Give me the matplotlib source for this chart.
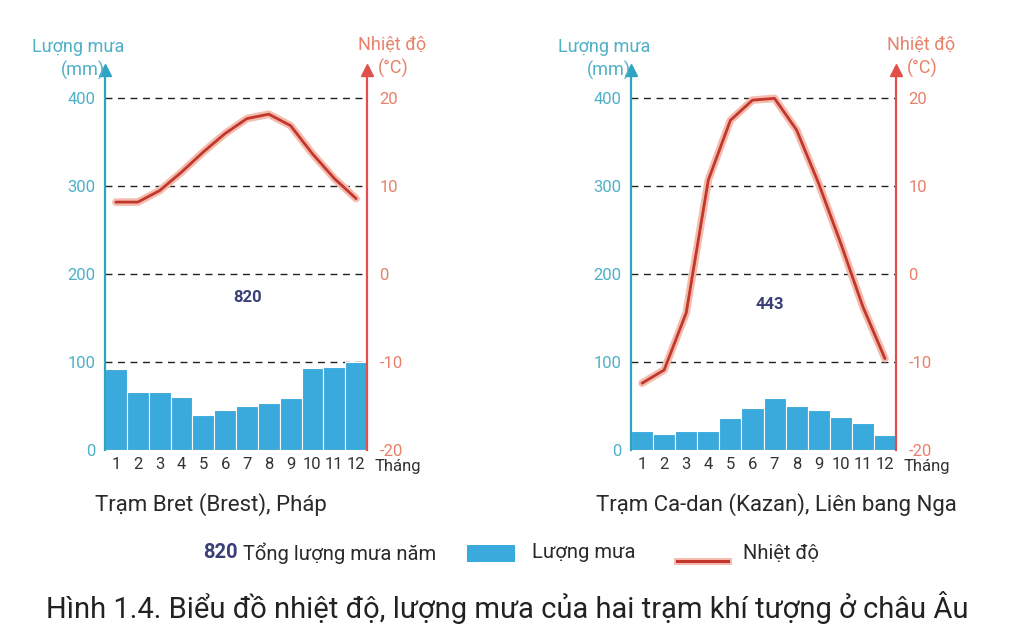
import matplotlib
matplotlib.use('Agg')
import matplotlib.pyplot as plt
import matplotlib.patheffects as pe
from matplotlib.patches import Rectangle
from matplotlib.lines import Line2D

# dữ liệu
months = list(range(1, 13))
month_labels = [str(m) for m in months]

brest_rain = [92, 66, 66, 60, 40, 46, 50, 54, 59, 93, 94, 100]
brest_temp = [8.2, 8.2, 9.5, 11.6, 13.9, 16.0, 17.7, 18.2, 16.9, 13.7, 10.9, 8.6]
brest_total = 820

kazan_rain = [22, 18, 22, 22, 36, 48, 59, 50, 46, 38, 31, 17]
kazan_temp = [-12.4, -10.9, -4.4, 10.7, 17.5, 19.8, 20.0, 16.4, 10.3, 3.5, -3.7, -9.6]
kazan_total = 443

rain_ticks = [0, 100, 200, 300, 400]
temp_ticks = [-20, -10, 0, 10, 20]

W, H = 1018, 641

plt.rcParams['font.family'] = ['Roboto', 'DejaVu Sans']

TEAL = '#2fa3c4'
TEAL_TXT = '#4fb0c8'
RED = '#e0504a'
RED_TXT = '#e8806a'
BAR = '#3aa9dc'
LINE = '#c3362b'
NAVY = '#3a3f78'
TXT = '#2a2a2a'


def fx(x):
    return x / W


def fy(y):
    return 1 - y / H


fig = plt.figure(figsize=(W / 100, H / 100), dpi=100)


def draw_station(x0, x1, rain, temp, total, total_pos, name, name_x):
    ax = fig.add_axes([fx(x0), fy(450), (x1 - x0) / W, (450 - 72) / H])
    ax.set_xlim(0.5, 12.5)
    ax.set_ylim(0, 430)
    ax.bar(months, rain, width=1.0, color=BAR, edgecolor='white', linewidth=0.8, zorder=2)
    ax.hlines(rain_ticks[1:], 0.5, 12.5, colors='#222222', linestyles=(0, (5, 4)), lw=1.0, zorder=1)

    for s in ['top', 'right', 'bottom']:
        ax.spines[s].set_visible(False)
    ax.spines['left'].set_color(TEAL)
    ax.spines['left'].set_linewidth(1.6)
    ax.set_yticks(rain_ticks)
    ax.set_yticklabels([str(v) for v in rain_ticks], color=TEAL_TXT, fontsize=12)
    ax.set_xticks(months)
    ax.set_xticklabels(month_labels, color='#333333', fontsize=12)
    ax.tick_params(length=0, pad=5)
    ax.tick_params(axis='y', pad=7)

    ax2 = ax.twinx()
    ax2.set_ylim(-20, 23)
    for s in ['top', 'left', 'bottom']:
        ax2.spines[s].set_visible(False)
    ax2.spines['right'].set_color(RED)
    ax2.spines['right'].set_linewidth(1.6)
    ax2.set_yticks(temp_ticks)
    ax2.set_yticklabels([str(v) for v in temp_ticks], color=RED_TXT, fontsize=12)
    ax2.tick_params(length=0, pad=9)
    ax2.plot(months, temp, color=LINE, lw=2.0, solid_joinstyle='round', solid_capstyle='round',
             path_effects=[pe.Stroke(linewidth=5.5, foreground='#f3bcae'), pe.Normal()], zorder=3)

    # mũi tên đầu trục
    ax.plot([0], [1.005], marker='^', color=TEAL, markersize=8, transform=ax.transAxes, clip_on=False)
    ax.plot([1], [1.005], marker='^', color=RED, markersize=8, transform=ax.transAxes, clip_on=False)

    ax.text(total_pos[0], total_pos[1], str(total), color=NAVY, fontsize=12, fontweight='bold',
            ha='center', va='center')

    fig.text(fx(x0 - 27), fy(47), 'Lượng mưa', color=TEAL_TXT, fontsize=13, ha='center', va='center')
    fig.text(fx(x0 - 22), fy(70), '(mm)', color=TEAL_TXT, fontsize=13, ha='center', va='center')
    fig.text(fx(x1 + 25), fy(45), 'Nhiệt độ', color=RED_TXT, fontsize=13, ha='center', va='center')
    fig.text(fx(x1 + 26), fy(68), '(°C)', color=RED_TXT, fontsize=13, ha='center', va='center')
    fig.text(fx(x1 + 8), fy(466), 'Tháng', color='#333333', fontsize=12, ha='left', va='center')
    fig.text(fx(name_x), fy(505), name, color=TXT, fontsize=16, ha='left', va='center')


draw_station(105, 367, brest_rain, brest_temp, brest_total, (7.05, 173), 'Trạm Bret (Brest), Pháp', 95)
draw_station(631, 896, kazan_rain, kazan_temp, kazan_total, (6.8, 166), 'Trạm Ca-dan (Kazan), Liên bang Nga', 596)

# chú giải
fig.text(fx(203), fy(553), '820', color=NAVY, fontsize=14.5, fontweight='bold', ha='left', va='center')
fig.text(fx(243), fy(553), 'Tổng lượng mưa năm', color=TXT, fontsize=14.5, ha='left', va='center')
fig.patches.append(Rectangle((fx(467), fy(562)), (515 - 467) / W, 17 / H, transform=fig.transFigure,
                             facecolor=BAR, edgecolor='none'))
fig.text(fx(532), fy(553), 'Lượng mưa', color=TXT, fontsize=14.5, ha='left', va='center')
fig.lines.append(Line2D([fx(677), fx(728)], [fy(561), fy(561)], transform=fig.transFigure,
                        color=LINE, lw=2.2, path_effects=[pe.Stroke(linewidth=5, foreground='#f3bcae'), pe.Normal()]))
fig.text(fx(743), fy(553), 'Nhiệt độ', color=TXT, fontsize=14.5, ha='left', va='center')

fig.text(fx(507), fy(607), 'Hình 1.4. Biểu đồ nhiệt độ, lượng mưa của hai trạm khí tượng ở châu Âu',
         color='#222222', fontsize=21, ha='center', va='center')

fig.savefig('out.png', dpi=100)
